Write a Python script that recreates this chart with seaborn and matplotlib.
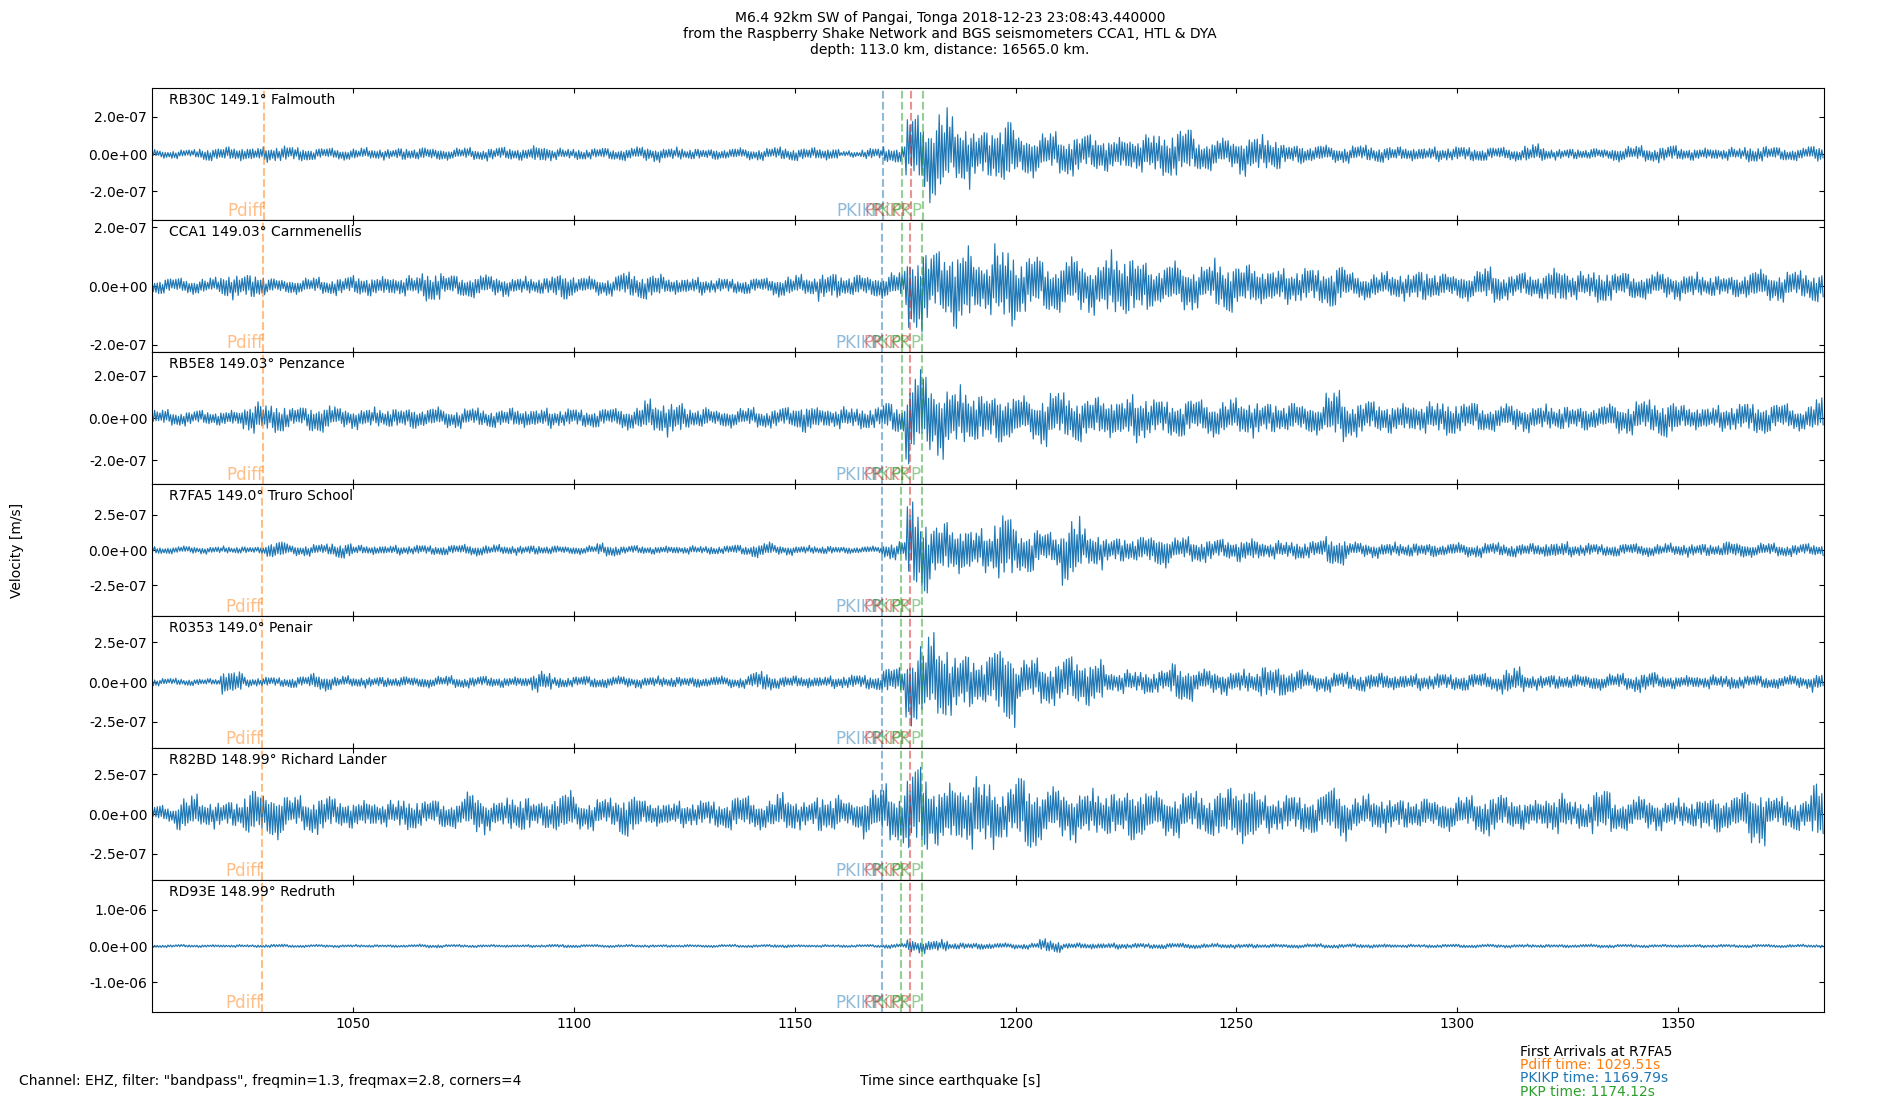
import numpy as np
import seaborn as sns
import matplotlib.pyplot as plt
from matplotlib import transforms
from matplotlib.ticker import FormatStrFormatter

# =====================================#
# DATA (read off the record section)
# =====================================#
stations = ["RB30C", "CCA1", "RB5E8", "R7FA5", "R0353", "R82BD", "RD93E"]
distances = ["149.1", "149.03", "149.03", "149.0", "149.0", "148.99", "148.99"]
places = ["Falmouth", "Carnmenellis", "Penzance", "Truro School", "Penair",
          "Richard Lander", "Redruth"]

# phase arrival times [s] per station
pdiff_times = [1029.95, 1029.64, 1029.64, 1029.51, 1029.51, 1029.47, 1029.47]
pkikp_times = [1169.98, 1169.85, 1169.85, 1169.79, 1169.79, 1169.77, 1169.77]
pkp_times = [1174.28, 1174.17, 1174.17, 1174.12, 1174.12, 1174.10, 1174.10]
pkikp2_times = [1176.25, 1176.12, 1176.12, 1176.05, 1176.05, 1176.03, 1176.03]
pkp2_times = [1178.95, 1178.80, 1178.80, 1178.72, 1178.72, 1178.70, 1178.70]

# peak velocity in 5 s windows starting at 1005 s  [1e-7 m/s]
env_rb30c = [0.25, 0.25, 0.4, 0.45, 0.45, 0.5, 0.45, 0.35, 0.35, 0.35,
             0.35, 0.4, 0.4, 0.35, 0.35, 0.4, 0.4, 0.55, 0.35, 0.35,
             0.35, 0.4, 0.45, 0.4, 0.35, 0.35, 0.35, 0.35, 0.4, 0.4,
             0.4, 0.2, 0.35, 0.5, 2.3, 2.75, 2.0, 1.6, 2.1, 1.35,
             1.2, 1.25, 1.15, 1.1, 1.15, 1.35, 1.5, 1.0, 0.9, 1.2,
             1.1, 0.65, 0.55, 0.5, 0.5, 0.5, 0.45, 0.45, 0.45, 0.45,
             0.4, 0.4, 0.55, 0.35, 0.35, 0.35, 0.45, 0.45, 0.5, 0.4,
             0.4, 0.4, 0.5, 0.4, 0.4, 0.5]
env_cca1 = [0.3, 0.3, 0.3, 0.5, 0.5, 0.3, 0.3, 0.3, 0.35, 0.4,
            0.4, 0.4, 0.6, 0.4, 0.45, 0.4, 0.35, 0.35, 0.55, 0.35,
            0.35, 0.5, 0.5, 0.35, 0.35, 0.3, 0.3, 0.3, 0.4, 0.4,
            0.55, 0.45, 0.45, 0.5, 1.65, 1.3, 1.7, 1.15, 1.6, 1.15,
            1.0, 1.05, 1.0, 1.3, 1.2, 0.85, 0.9, 0.75, 1.0, 0.85,
            0.75, 0.7, 0.7, 0.8, 0.5, 0.5, 0.55, 0.65, 0.5, 0.55,
            0.65, 0.5, 0.5, 0.75, 0.55, 0.65, 0.5, 0.5, 0.5, 0.5,
            0.45, 0.45, 0.6, 0.55, 0.55, 0.6]
env_rb5e8 = [0.4, 0.4, 0.4, 0.45, 0.85, 0.8, 0.55, 0.75, 0.55, 0.55,
             0.55, 0.6, 0.55, 0.5, 0.5, 0.5, 0.55, 0.55, 0.5, 0.5,
             0.5, 0.6, 0.9, 0.95, 0.6, 0.5, 0.5, 0.5, 0.55, 0.8,
             0.6, 0.6, 0.6, 0.8, 2.4, 1.95, 1.65, 1.4, 1.4, 1.1,
             1.35, 1.25, 1.15, 1.15, 1.3, 1.0, 1.0, 0.95, 0.95, 1.0,
             0.9, 0.85, 0.85, 1.3, 0.95, 0.85, 0.85, 0.85, 0.95, 0.8,
             0.7, 0.7, 0.7, 0.7, 0.7, 0.7, 0.8, 0.9, 1.0, 0.7,
             0.7, 0.75, 0.85, 0.75, 0.65, 0.95]
env_r7fa5 = [0.3, 0.3, 0.3, 0.3, 0.3, 0.75, 0.45, 0.45, 0.65, 0.4,
             0.4, 0.4, 0.4, 0.4, 0.45, 0.4, 0.4, 0.4, 0.35, 0.35,
             0.5, 0.35, 0.35, 0.35, 0.35, 0.35, 0.4, 0.6, 0.4, 0.35,
             0.35, 0.3, 0.3, 0.7, 3.6, 2.3, 2.1, 1.8, 2.85, 1.8,
             1.4, 2.65, 1.5, 1.1, 1.1, 1.35, 0.95, 0.95, 0.85, 1.0,
             0.75, 0.75, 0.75, 1.2, 0.6, 0.6, 0.6, 0.6, 0.55, 0.55,
             0.55, 0.55, 0.55, 0.7, 0.55, 0.5, 0.5, 0.5, 0.5, 0.55,
             0.55, 0.7, 0.55, 0.5, 0.5, 0.5]
env_r0353 = [0.25, 0.25, 0.25, 0.95, 0.35, 0.35, 0.4, 0.6, 0.4, 0.4,
             0.4, 0.4, 0.4, 0.4, 0.4, 0.4, 0.4, 0.75, 0.4, 0.4,
             0.4, 0.4, 0.4, 0.4, 0.4, 0.4, 0.4, 0.7, 0.45, 0.45,
             0.45, 0.5, 0.55, 1.0, 2.9, 3.1, 2.2, 1.9, 3.0, 1.5,
             1.55, 1.75, 1.75, 0.85, 0.85, 0.85, 1.35, 0.85, 0.85, 0.85,
             1.25, 1.0, 0.65, 0.65, 0.65, 0.65, 0.6, 0.6, 0.6, 0.6,
             0.6, 0.95, 0.55, 0.55, 0.55, 0.55, 0.55, 0.7, 0.5, 0.5,
             0.5, 0.5, 0.45, 0.45, 0.45, 0.65]
env_r82bd = [0.6, 1.25, 1.0, 1.0, 1.75, 1.7, 1.15, 1.35, 1.05, 1.05,
             0.95, 1.15, 0.95, 1.0, 1.45, 1.05, 1.35, 1.05, 1.55, 1.05,
             1.05, 1.55, 0.95, 0.95, 0.95, 1.0, 1.25, 1.05, 1.35, 1.05,
             1.45, 1.1, 1.65, 1.9, 3.25, 2.3, 2.4, 2.6, 1.9, 2.6,
             1.8, 1.8, 1.7, 1.7, 2.0, 1.5, 1.5, 1.5, 1.9, 2.3,
             1.35, 1.35, 1.35, 1.8, 1.25, 1.25, 1.15, 1.15, 1.15, 1.15,
             1.45, 1.15, 1.05, 1.45, 1.05, 1.65, 1.15, 1.15, 1.05, 1.05,
             1.4, 1.35, 2.0, 1.15, 1.15, 2.2]
env_rd93e = [0.45, 0.45, 0.45, 0.45, 0.45, 0.55, 0.45, 0.45, 0.45, 0.45,
             0.45, 0.45, 0.55, 0.45, 0.45, 0.45, 0.45, 0.45, 0.55, 0.45,
             0.45, 0.45, 0.45, 0.45, 0.45, 0.45, 0.45, 0.45, 0.55, 0.45,
             0.45, 0.45, 0.45, 0.75, 2.1, 1.95, 1.1, 1.1, 0.9, 0.9,
             2.1, 1.0, 1.0, 1.0, 0.85, 0.85, 0.85, 0.75, 0.75, 0.75,
             0.65, 0.65, 0.65, 0.65, 0.65, 0.65, 0.55, 0.55, 0.55, 0.55,
             0.55, 0.55, 0.55, 0.55, 0.55, 0.55, 0.5, 0.5, 0.5, 0.5,
             0.5, 0.5, 0.5, 0.5, 0.5, 0.5]
envelopes = [env_rb30c, env_cca1, env_rb5e8, env_r7fa5, env_r0353, env_r82bd, env_rd93e]

# swing-to-swing variation of the wiggles inside one window
swing_a = [0.75, 0.4, 0.95, 0.6, 0.85, 0.3, 1.0, 0.7, 0.5, 0.9, 0.65, 0.8, 0.45]
swing_b = [0.9, 0.7, 1.0, 0.55, 0.8, 0.95, 0.6, 0.85, 0.75, 1.0, 0.5, 0.9,
           0.7, 0.8, 0.65, 0.95, 0.85]

y_half = [3.54e-7, 2.25e-7, 3.11e-7, 4.7e-7, 4.13e-7, 4.13e-7, 1.82e-6]
y_step = [2e-7, 2e-7, 2e-7, 2.5e-7, 2.5e-7, 2.5e-7, 1e-6]

t_start, t_end = 1004.5, 1383.0
win_start, win_len = 1005.0, 5.0
half_period = 0.3

# =====================================#
# PLOT
# =====================================#
sns.set_style("ticks", {"xtick.direction": "in", "ytick.direction": "in",
                        "axes.edgecolor": "black", "text.color": "black",
                        "xtick.color": "black", "ytick.color": "black"})
plt.rcParams["font.family"] = ["DejaVu Sans"]
plt.rcParams["font.size"] = 10

fig, axes = plt.subplots(7, 1, sharex=True, figsize=(19, 11), dpi=100)
plt.subplots_adjust(left=0.08, right=0.96, top=0.92, bottom=0.08, hspace=0)

t = np.arange(t_start, t_end, half_period)
n = np.arange(t.size)
win = np.clip(((t - win_start) // win_len).astype(int), 0, len(env_rb30c) - 1)
sign = np.where(n % 2 == 0, 1.0, -1.0)

phases = [("Pdiff", "C1", pdiff_times), ("PKIKP", "C0", pkikp_times),
          ("PKP", "C2", pkp_times), ("PKiKP", "C3", pkikp2_times),
          ("PKP", "C2", pkp2_times)]

for i, ax in enumerate(axes):
	env = np.array(envelopes[i])
	sa = np.roll(swing_a, 3 * i)[n % len(swing_a)]
	sb = np.roll(swing_b, 5 * i)[n % len(swing_b)]
	vel = sign * sa * sb * env[win] * 1e-7
	sns.lineplot(x=t, y=vel, ax=ax, color="#1f77b4", linewidth=0.85)

	ax.set_xlim(t_start, t_end)
	ax.set_ylim(-y_half[i], y_half[i])
	ax.set_yticks([-y_step[i], 0, y_step[i]])
	ax.yaxis.set_major_formatter(FormatStrFormatter("%.1e"))
	ax.tick_params(direction="in", top=True, right=True, labelsize=10)
	ax.set_ylabel("")

	trans = transforms.blended_transform_factory(ax.transData, ax.transAxes)
	for name, colour, times in phases:
		ax.axvline(times[i], color=colour, linestyle="--", linewidth=1.5, alpha=0.5)
		ax.text(times[i], 0.0, name, transform=trans, ha="right", va="bottom",
		        color=colour, alpha=0.5, fontsize=12)

	ax.text(0.01, 0.96, f"{stations[i]} {distances[i]}° {places[i]}",
	        transform=ax.transAxes, ha="left", va="top", fontsize=10)

axes[-1].set_xticks([1050, 1100, 1150, 1200, 1250, 1300, 1350])

fig.text(0.5, 0.99,
         "M6.4 92km SW of Pangai, Tonga 2018-12-23 23:08:43.440000\n"
         "from the Raspberry Shake Network and BGS seismometers CCA1, HTL & DYA\n"
         "depth: 113.0 km, distance: 16565.0 km.",
         ha="center", va="top", fontsize=10)
fig.text(0.009, 0.5, "Velocity [m/s]", rotation=90, ha="center", va="center")
fig.text(0.01, 0.0173, 'Channel: EHZ, filter: "bandpass", freqmin=1.3, freqmax=2.8, corners=4',
         ha="left", va="center")
fig.text(0.5, 0.0173, "Time since earthquake [s]", ha="center", va="center")
fig.text(0.8, 0.0436, "First Arrivals at R7FA5", ha="left", va="center")
fig.text(0.8, 0.0318, "Pdiff time: 1029.51s", color="C1", ha="left", va="center")
fig.text(0.8, 0.0200, "PKIKP time: 1169.79s", color="C0", ha="left", va="center")
fig.text(0.8, 0.0073, "PKP time: 1174.12s", color="C2", ha="left", va="center")

plt.savefig("out.png", dpi=100)
